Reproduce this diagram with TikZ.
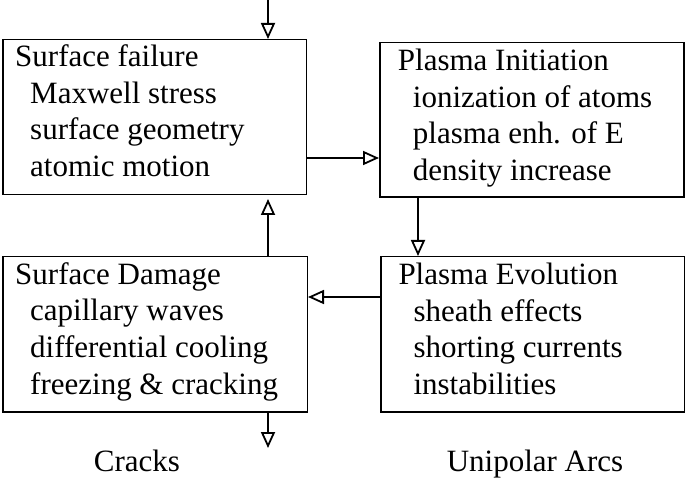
\documentclass[tikz,border=0pt]{standalone}
\usepackage{fontspec}
\setmainfont{Liberation Serif}
\usetikzlibrary{arrows.meta}
\begin{document}
\begin{tikzpicture}[x=1pt,y=-1pt,
  box/.style={draw,line width=1.5pt,inner sep=0pt,anchor=north west},
  txt/.style={anchor=north west,inner sep=0pt,align=left,font=\fontsize{31}{36.6}\selectfont},
  lbl/.style={anchor=base,inner sep=0pt,font=\fontsize{31}{36.6}\selectfont},
  arr/.style={line width=2.2pt,-{Triangle[open,length=16pt,width=14pt,line width=1.8pt]}}]
\useasboundingbox (0,0) rectangle (685,478);
\node[box,minimum width=303.5pt,minimum height=155pt] (b1) at (2,39) {};
\node[box,minimum width=304pt,minimum height=154.5pt] (b2) at (379,42) {};
\node[box,minimum width=304.5pt,minimum height=155pt] (b3) at (2,256) {};
\node[box,minimum width=304pt,minimum height=155pt] (b4) at (380,256) {};
\node[txt] (t1) at (15,44.5) {Surface failure\\\hspace*{15pt}Maxwell stress\\\hspace*{15pt}surface geometry\\\hspace*{15pt}atomic motion};
\node[txt] (t2) at (397.7,48.8) {Plasma Initiation\\\hspace*{15pt}ionization of atoms\\\hspace*{15pt}plasma enh. of E\\\hspace*{15pt}density increase};
\node[txt] (t3) at (15,262.2) {Surface Damage\\\hspace*{15pt}capillary waves\\\hspace*{15pt}differential cooling\\\hspace*{15pt}freezing \& cracking};
\node[txt] (t4) at (398.3,262.8) {Plasma Evolution\\\hspace*{15pt}sheath effects\\\hspace*{15pt}shorting currents\\\hspace*{15pt}instabilities};
\node[lbl] (cracks) at (137,471.7) {Cracks};
\node[lbl] (arcs) at (535,471.7) {Unipolar Arcs};
\coordinate (in) at (268,0);
\coordinate (r1) at (0,158);
\coordinate (r2) at (0,297);
\coordinate (c2) at (418,0);
\coordinate (out) at (268,448);
\draw[arr] (in) -- (in |- b1.north);
\draw[arr] (b1.east |- r1) -- (b2.west |- r1);
\draw[arr] (c2 |- b2.south) -- (c2 |- b4.north);
\draw[arr] (b4.west |- r2) -- (b3.east |- r2);
\draw[arr,shorten >=3.5pt] (in |- b3.north) -- (in |- b1.south);
\draw[arr] (in |- b3.south) -- (out);
\end{tikzpicture}
\end{document}
